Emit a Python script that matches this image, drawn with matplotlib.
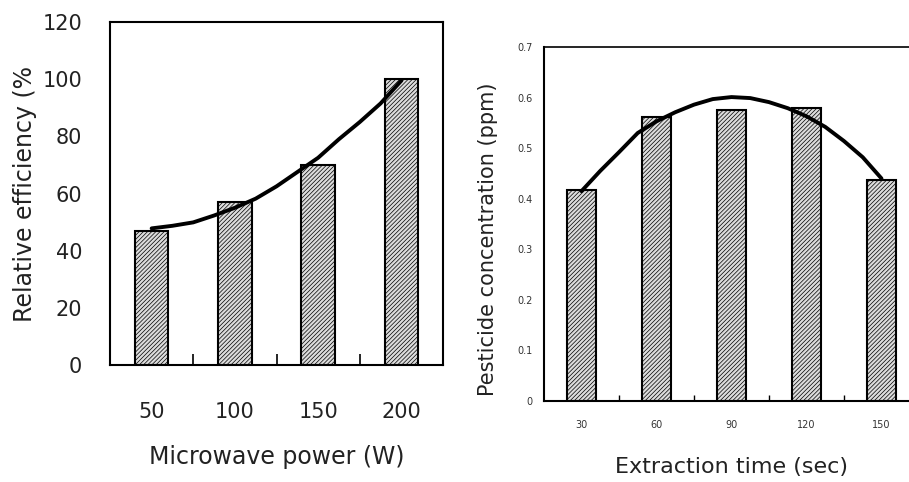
import numpy as np
import matplotlib
matplotlib.use("Agg")
import matplotlib.pyplot as plt

plt.rcParams['font.family'] = ['DejaVu Sans']
plt.rcParams['hatch.linewidth'] = 0.5
plt.rcParams['hatch.color'] = '#888888'

# left panel data
power = [50, 100, 150, 200]
efficiency = [47, 57, 70, 100]
power_fit = [50, 62.5, 75, 87.5, 100, 112.5, 125, 137.5, 150, 162.5, 175, 187.5, 200]
eff_fit = [47.8, 48.7, 49.9, 52.3, 55, 58.2, 62.5, 67.5, 72.5, 79, 85, 91.5, 99.5]

# right panel data
time_sec = [30, 60, 90, 120, 150]
conc = [0.417, 0.562, 0.575, 0.579, 0.437]
time_fit = [30, 37.5, 45, 52.5, 60, 67.5, 75, 82.5, 90, 97.5, 105, 112.5, 120, 127.5, 135, 142.5, 150]
conc_fit = [0.415, 0.455, 0.492, 0.530, 0.553, 0.571, 0.586, 0.597, 0.601, 0.599,
            0.591, 0.579, 0.563, 0.542, 0.514, 0.482, 0.440]

W, H = 909, 482
fig = plt.figure(figsize=(W / 100, H / 100), dpi=100)

# ---- left
ax1 = fig.add_axes([110 / W, (H - 365) / H, 333 / W, 343 / H])
ax1.bar(power, efficiency, width=20, color='#dcdcdc', edgecolor='black',
        linewidth=1.5, hatch='////////', zorder=2)
ax1.plot(power_fit, eff_fit, color='black', lw=2.8, zorder=3, solid_capstyle='round')
ax1.set_xlim(25, 225)
ax1.set_ylim(0, 120)
ax1.set_yticks(np.arange(0, 121, 20))
ax1.set_xticks(power)
ax1.set_xticks([75, 125, 175], minor=True)
ax1.tick_params(axis='y', length=0, pad=20, labelsize=15, labelcolor='#222222')
ax1.tick_params(axis='x', which='major', length=0, pad=27, labelsize=15, labelcolor='#222222')
ax1.tick_params(axis='x', which='minor', direction='in', length=8, width=1.2)
for s in ax1.spines.values():
    s.set_linewidth(1.5)
ax1.set_ylabel('Relative efficiency (%', fontsize=17, color='#222222', va='center')
ax1.yaxis.set_label_coords(-0.255, 0.5)
ax1.set_xlabel('Microwave power (W)', fontsize=17, color='#222222', va='center')
ax1.xaxis.set_label_coords(0.5, -0.268)

# ---- right (runs past the right edge of the figure)
ax2 = fig.add_axes([544 / W, (H - 401) / H, 375 / W, 354 / H])
ax2.bar(time_sec, conc, width=11.7, color='#dcdcdc', edgecolor='black',
        linewidth=1.5, hatch='////////', zorder=2)
ax2.plot(time_fit, conc_fit, color='black', lw=2.8, zorder=3, solid_capstyle='round')
ax2.set_xlim(15, 165)
ax2.set_ylim(0, 0.7)
ax2.set_yticks([0, 0.1, 0.2, 0.3, 0.4, 0.5, 0.6, 0.7])
ax2.set_yticklabels(['0', '0.1', '0.2', '0.3', '0.4', '0.5', '0.6', '0.7'])
ax2.set_xticks(time_sec)
ax2.set_xticks([45, 75, 105, 135], minor=True)
ax2.tick_params(axis='y', length=0, pad=8, labelsize=7, labelcolor='#333333')
ax2.tick_params(axis='x', which='major', length=0, pad=14, labelsize=7, labelcolor='#333333')
ax2.tick_params(axis='x', which='minor', direction='in', length=4, width=1.0)
for s in ax2.spines.values():
    s.set_linewidth(1.2)
ax2.spines['left'].set_linewidth(1.5)
ax2.spines['bottom'].set_linewidth(1.5)
ax2.set_ylabel('Pesticide concentration (ppm)', fontsize=15, color='#222222', va='center')
ax2.yaxis.set_label_coords(-0.149, 0.458)
ax2.set_xlabel('Extraction time (sec)', fontsize=16, color='#222222', va='center')
ax2.xaxis.set_label_coords(0.5, -0.186)

fig.savefig('out.png', dpi=100)
